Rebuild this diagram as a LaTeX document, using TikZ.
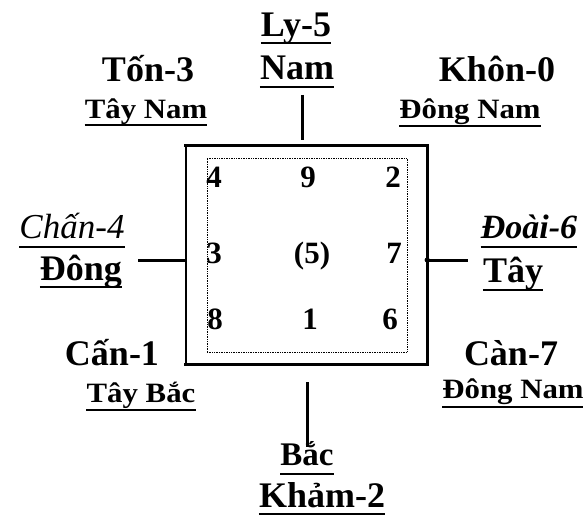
\documentclass[tikz,border=0pt]{standalone}
\usepackage{fontspec}
\setmainfont{Liberation Serif}
\usepackage{graphicx}
\begin{document}
\begin{tikzpicture}[x=1pt,y=-1pt,
  big/.style={inner sep=0pt, anchor=base, font=\bfseries\fontsize{36}{40}\selectfont},
  small/.style={inner sep=0pt, anchor=base, font=\bfseries\fontsize{28}{32}\selectfont},
  ital/.style={inner sep=0pt, anchor=base, font=\itshape\fontsize{35}{40}\selectfont},
  bital/.style={inner sep=0pt, anchor=base, font=\bfseries\itshape\fontsize{34}{40}\selectfont},
  num/.style={inner sep=0pt, anchor=base, font=\bfseries\fontsize{31}{34}\selectfont},
  uline/.style={line width=2pt},
  conn/.style={line width=3pt},
  outer/.style={line width=2.8pt, line cap=rect, line join=miter},
  innerbox/.style={draw, line width=0.8pt, dash pattern=on 0.8pt off 0.9pt}
]
\useasboundingbox (0,0) rectangle (583,516);

% square
\node[minimum width=241pt, minimum height=218pt, inner sep=0pt] (box) at (306.5,255) {};
\draw[line width=1.4pt] (box.north west) -- (box.south west);
\draw[outer] (box.north west) -- (box.north east) -- (box.south east) -- (box.south west);
\node[innerbox, minimum width=200pt, minimum height=194pt, inner sep=0pt] (inner) at (307,255) {};

% numbers
\node[num] (n4) at (214,187) {4};
\node[num] (n9) at (308,187) {9};
\node[num] (n2) at (393,187) {2};
\node[num] (n3) at (214,263) {3};
\node[num] (n5) at (312,263) {(5)};
\node[num] (n7) at (394,263) {7};
\node[num] (n8) at (215,329) {8};
\node[num] (n1) at (310,329) {1};
\node[num] (n6) at (390,329) {6};

% labels
\node[big] (ly) at (296,37) {Ly-5};
\node[big] (nam) at (297,80) {Nam};
\node[big] (ton) at (148,82) {Tốn-3};
\node[small] (taynam) at (146,118) {\scalebox{1.1}[1]{Tây Nam}};
\node[big] (khon) at (497,82) {Khôn-0};
\node[small] (dongnam1) at (470,118) {\scalebox{1.1}[1]{Đông Nam}};
\node[ital] (chan) at (72,238) {Chấn-4};
\node[big] (dong) at (81,280) {Đông};
\node[bital] (doai) at (529,238) {Đoài-6};
\node[big] (tay) at (513,282) {Tây};
\node[big] (can) at (112,365) {Cấn-1};
\node[small] (taybac) at (141,402) {\scalebox{1.1}[1]{Tây Bắc}};
\node[big] (can7) at (511,365) {Càn-7};
\node[small] (dongnam2) at (513,398) {\scalebox{1.1}[1]{Đông Nam}};
\node[big, font=\bfseries\fontsize{33}{36}\selectfont] (bac) at (307,465) {Bắc};
\node[big] (kham) at (322,507) {Khảm-2};

% underlines
\foreach \n/\d in {ly/6, nam/7, taynam/7, dongnam1/8, chan/9, dong/7, doai/9, tay/8, taybac/8, dongnam2/9, bac/9, kham/7}
  \draw[uline] ([yshift=-\d pt]\n.base west) -- ([yshift=-\d pt]\n.base east);

% connectors
\coordinate (t1) at (302,95);
\coordinate (t2) at (302,140);
\draw[conn] (t1) -- (t2);
\coordinate (l1) at (138,260);
\draw[conn] (l1) -- (l1 -| box.west);
\coordinate (r1) at (468,260);
\draw[conn] (r1 -| box.east) -- (r1);
\fill (r1 -| box.east) circle (2.6pt);
\coordinate (b1) at (307,382);
\coordinate (b2) at (307,447);
\draw[conn] (b1) -- (b2);
\end{tikzpicture}
\end{document}
